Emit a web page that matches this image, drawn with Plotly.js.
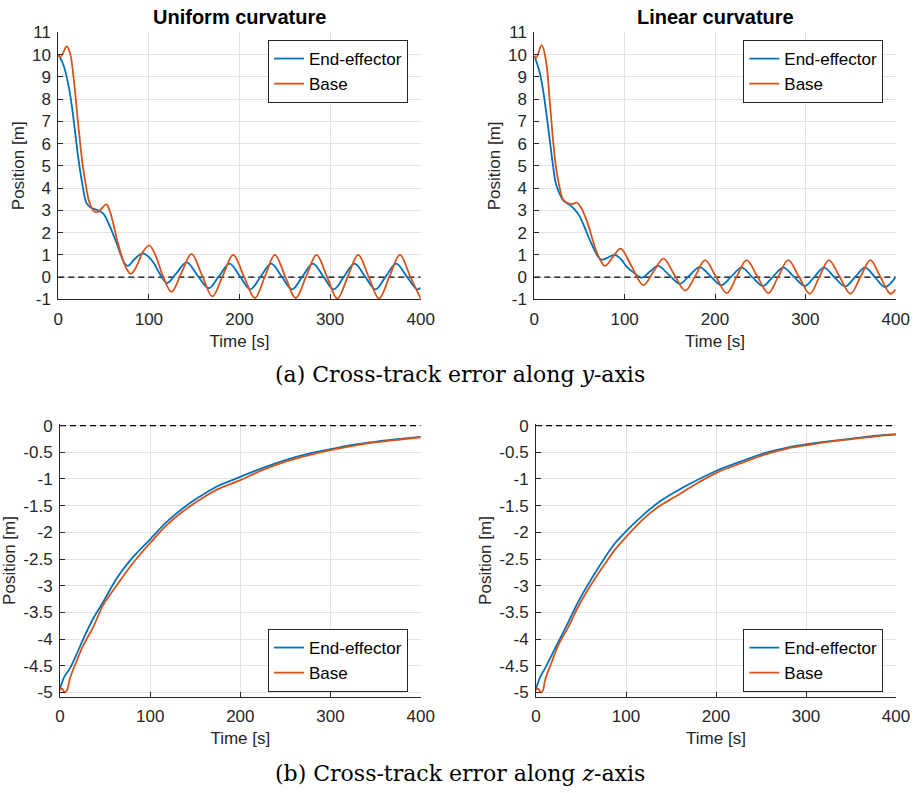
<!DOCTYPE html>
<html>
<head>
<meta charset="utf-8">
<script src="https://cdn.plot.ly/plotly-3.0.1.min.js"></script>
<style>html,body{margin:0;padding:0;background:#fff;}#chart{width:914px;height:793px;}</style>
</head>
<body>
<div id="chart"></div>
<script>
// ---------- Data ----------
// (a) Cross-track error along y-axis, Uniform curvature
const ucYEeT = [0, 5.5, 11, 14.7, 18.4, 22, 25.8, 31.3, 36, 40, 44, 49.7, 57, 64.4, 69, 73, 77, 84, 93, 100, 105, 112, 120, 130, 141.7, 154, 166, 177.5, 189, 200.5, 212, 223.5, 235, 246.5, 258, 269.5, 281, 292.5, 304, 315.5, 327, 338.5, 350, 361.5, 373, 384.5, 396, 400];
const ucYEe  = [10, 9.55, 8.66, 7.76, 6.57, 5.37, 4.36, 3.31, 3.12, 3.05, 3.0, 2.85, 2.27, 1.52, 1.0, 0.62, 0.5, 0.8, 1.06, 0.9, 0.65, 0.15, -0.27, 0.15, 0.66, 0.05, -0.5, 0.05, 0.6, 0.03, -0.55, 0.03, 0.6, 0.03, -0.55, 0.03, 0.6, 0.03, -0.55, 0.03, 0.6, 0.03, -0.55, 0.03, 0.6, 0.03, -0.55, -0.48];
const ucYBaseT = [0, 1.8, 5, 9.2, 12.9, 16.5, 20.2, 23.9, 27, 29.5, 34, 38.7, 42.3, 47, 53, 57, 61, 65, 70, 75, 80, 86, 93, 100.5, 108, 115, 125, 136, 147, 158.5, 170, 181.5, 193, 205, 217, 228, 239, 250.5, 262, 273.5, 285, 296.5, 308, 319.5, 331, 342.5, 354, 365.5, 377, 388.5, 400];
const ucYBase  = [10, 9.88, 10.05, 10.37, 10.07, 9.1, 7.6, 6.1, 5.0, 4.36, 3.4, 2.99, 2.91, 3.05, 3.27, 2.95, 2.35, 1.65, 0.93, 0.4, 0.14, 0.45, 1.1, 1.42, 0.9, 0.1, -0.67, 0.2, 1.04, 0.1, -0.87, 0.05, 1.0, 0.02, -0.95, 0.02, 1.0, 0.02, -0.95, 0.02, 1.0, 0.02, -0.97, 0.02, 1.0, 0.02, -0.97, 0.02, 1.0, 0.02, -0.97];

// (a) Cross-track error along y-axis, Linear curvature
const lcYEeT = [0, 5.6, 9.3, 13, 16.8, 20.5, 24, 28, 32, 36, 40, 45, 50, 55, 60, 65, 70, 74, 80, 89, 96, 102, 110, 119, 128, 137, 149, 161, 172, 183, 195, 207, 218, 229.5, 241, 253, 264, 275.5, 287.5, 299.5, 310, 320.5, 332, 344, 355, 366, 377, 388, 400];
const lcYEe  = [9.95, 9.25, 8.5, 7.46, 6.27, 5.07, 4.18, 3.75, 3.45, 3.33, 3.22, 3.02, 2.75, 2.3, 1.8, 1.35, 0.95, 0.78, 0.85, 1.0, 0.8, 0.48, 0.2, -0.03, 0.25, 0.5, 0.1, -0.3, 0.08, 0.45, 0.04, -0.37, 0.02, 0.42, 0.01, -0.4, 0.01, 0.42, 0.01, -0.4, 0.01, 0.42, 0.0, -0.42, 0.0, 0.42, 0.0, -0.45, 0.0];
const lcYBaseT = [0, 2, 8.2, 13, 16.8, 20.5, 24, 28, 31.7, 35.4, 41, 47.5, 52, 56, 60, 63.5, 67, 71, 78, 87, 95.6, 107.7, 120.7, 132, 143, 155, 167, 178, 189, 201, 213, 224, 235, 247, 259, 270, 281, 293, 305, 315.5, 326, 338, 350, 361, 372, 383, 394, 400];
const lcYBase  = [9.93, 9.85, 10.42, 9.7, 8.06, 6.27, 4.93, 4.03, 3.5, 3.36, 3.28, 3.34, 3.1, 2.75, 2.3, 1.82, 1.35, 0.93, 0.5, 0.9, 1.28, 0.48, -0.36, 0.25, 0.83, 0.1, -0.61, 0.03, 0.76, 0.02, -0.72, 0.02, 0.76, 0.02, -0.72, 0.02, 0.76, 0.01, -0.75, 0.01, 0.76, 0.01, -0.75, 0.01, 0.76, 0.01, -0.75, -0.55];

// (b) Cross-track error along z-axis, Uniform curvature
const ucZEeT = [0, 5, 11, 18, 26, 37, 48, 63, 78, 89, 100, 118, 137, 155, 174, 200, 225, 251, 277, 300, 325, 351, 377, 400];
const ucZEe  = [-4.93, -4.7, -4.55, -4.3, -3.99, -3.61, -3.3, -2.86, -2.52, -2.32, -2.13, -1.81, -1.54, -1.33, -1.14, -0.96, -0.79, -0.64, -0.52, -0.44, -0.36, -0.3, -0.25, -0.21];
const ucZBaseT = [0, 2, 5.5, 8, 11, 18, 26, 37, 48, 63, 78, 89, 100, 118, 137, 155, 174, 200, 225, 251, 277, 300, 325, 351, 377, 400];
const ucZBase  = [-4.96, -4.93, -5.0, -4.95, -4.74, -4.43, -4.11, -3.77, -3.36, -2.99, -2.64, -2.41, -2.2, -1.87, -1.6, -1.39, -1.2, -1.02, -0.83, -0.67, -0.55, -0.46, -0.38, -0.31, -0.26, -0.22];

// (b) Cross-track error along z-axis, Linear curvature
const lcZEeT = [0, 5, 10, 17.5, 25, 36, 47, 62, 77, 88, 100, 118, 136, 155, 171, 200, 227, 253, 279, 300, 327, 353, 378, 400];
const lcZEe  = [-4.93, -4.7, -4.55, -4.3, -4.05, -3.68, -3.3, -2.86, -2.46, -2.2, -1.98, -1.69, -1.44, -1.24, -1.09, -0.85, -0.675, -0.52, -0.41, -0.35, -0.29, -0.24, -0.19, -0.16];
const lcZBaseT = [0, 2, 5.6, 8, 10, 17.5, 25, 36, 47, 62, 77, 88, 100, 118, 136, 155, 174, 200, 227, 253, 279, 300, 327, 353, 378, 400];
const lcZBase  = [-4.96, -4.93, -5.0, -4.95, -4.77, -4.43, -4.11, -3.77, -3.39, -2.96, -2.58, -2.32, -2.09, -1.77, -1.52, -1.33, -1.13, -0.89, -0.71, -0.55, -0.43, -0.37, -0.3, -0.25, -0.2, -0.17];

// reference (zero) line
const refX = [0, 400];
const refY = [0, 0];

// ticks
const xTicks = [0, 100, 200, 300, 400];
const xTickText = ['0', '100', '200', '300', '400'];
const yTopTicks = [-1, 0, 1, 2, 3, 4, 5, 6, 7, 8, 9, 10, 11];
const yTopText = ['-1', '0', '1', '2', '3', '4', '5', '6', '7', '8', '9', '10', '11'];
const yBotTicks = [-5, -4.5, -4, -3.5, -3, -2.5, -2, -1.5, -1, -0.5, 0];
const yBotText = ['-5', '-4.5', '-4', '-3.5', '-3', '-2.5', '-2', '-1.5', '-1', '-0.5', '0'];

const seriesNames = ['End-effector', 'Base'];
const titles = ['Uniform curvature', 'Linear curvature'];
const captions = ['(a) Cross-track error along <i>y</i>-axis', '(b) Cross-track error along <i>z</i>-axis'];

// ---------- Styling ----------
const BLUE = '#0072BD', ORANGE = '#D95319', AXC = '#262626', GRID = '#e3e3e3';
const FONT = 'Liberation Sans, Arial, Helvetica, sans-serif';
const SERIF = 'DejaVu Serif, Liberation Serif, serif';

function line(x, y, name, color, xa, ya, leg) {
  return {x: x, y: y, name: name, type: 'scatter', mode: 'lines',
          line: {color: color, width: 1.8, shape: 'spline', smoothing: 1},
          xaxis: xa, yaxis: ya, legend: leg, showlegend: true, hoverinfo: 'skip'};
}
function ref(xa, ya) {
  return {x: refX, y: refY, type: 'scatter', mode: 'lines', showlegend: false,
          line: {color: '#000', width: 1.2, dash: '6px,4px'}, xaxis: xa, yaxis: ya, hoverinfo: 'skip'};
}

const traces = [
  ref('x', 'y'),
  line(ucYEeT, ucYEe, seriesNames[0], BLUE, 'x', 'y', 'legend'),
  line(ucYBaseT, ucYBase, seriesNames[1], ORANGE, 'x', 'y', 'legend'),
  ref('x2', 'y2'),
  line(lcYEeT, lcYEe, seriesNames[0], BLUE, 'x2', 'y2', 'legend2'),
  line(lcYBaseT, lcYBase, seriesNames[1], ORANGE, 'x2', 'y2', 'legend2'),
  ref('x3', 'y3'),
  line(ucZEeT, ucZEe, seriesNames[0], BLUE, 'x3', 'y3', 'legend3'),
  line(ucZBaseT, ucZBase, seriesNames[1], ORANGE, 'x3', 'y3', 'legend3'),
  ref('x4', 'y4'),
  line(lcZEeT, lcZEe, seriesNames[0], BLUE, 'x4', 'y4', 'legend4'),
  line(lcZBaseT, lcZBase, seriesNames[1], ORANGE, 'x4', 'y4', 'legend4')
];

const W = 914, H = 793;
const px = v => v / W;
const py = v => 1 - v / H;

function xaxis(d0, d1, anchor) {
  return {domain: [px(d0), px(d1)], anchor: anchor, range: [0, 400],
          tickvals: xTicks, ticktext: xTickText, ticks: 'inside', ticklen: 5, tickcolor: AXC, tickwidth: 1,
          ticklabelstandoff: 4,
          showline: true, linecolor: AXC, linewidth: 1, mirror: false,
          showgrid: true, gridcolor: GRID, gridwidth: 1, zeroline: false,
          tickfont: {family: FONT, size: 17, color: AXC},
          title: {text: 'Time [s]', font: {family: FONT, size: 17, color: AXC}, standoff: 7}};
}
function yaxis(d0, d1, anchor, range, tv, tt) {
  return {domain: [py(d1), py(d0)], anchor: anchor, range: range,
          tickvals: tv, ticktext: tt, ticks: 'inside', ticklen: 5, tickcolor: AXC, tickwidth: 1,
          ticklabelstandoff: 3,
          showline: true, linecolor: AXC, linewidth: 1, mirror: false,
          showgrid: true, gridcolor: GRID, gridwidth: 1, zeroline: false,
          tickfont: {family: FONT, size: 17, color: AXC},
          title: {text: 'Position [m]', font: {family: FONT, size: 17, color: AXC}, standoff: 3}};
}
function legend(xr, yv, yanchor) {
  return {x: px(xr), xanchor: 'right', y: yv, yanchor: yanchor,
          bgcolor: '#ffffff', bordercolor: AXC, borderwidth: 1,
          font: {family: FONT, size: 17, color: '#000'}, tracegroupgap: 0, itemwidth: 30};
}

const layout = {
  width: W, height: H, margin: {l: 0, r: 0, t: 0, b: 0},
  paper_bgcolor: '#fff', plot_bgcolor: '#fff', font: {family: FONT, color: AXC},
  xaxis: xaxis(58.3, 420.7, 'y'),
  yaxis: yaxis(32.3, 299.3, 'x', [-1, 11], yTopTicks, yTopText),
  xaxis2: xaxis(534.3, 895.7, 'y2'),
  yaxis2: yaxis(32.3, 299.3, 'x2', [-1, 11], yTopTicks, yTopText),
  xaxis3: xaxis(60, 420.7, 'y3'),
  yaxis3: yaxis(424.3, 696.7, 'x3', [-5.08, 0.025], yBotTicks, yBotText),
  xaxis4: xaxis(536, 896, 'y4'),
  yaxis4: yaxis(424.3, 696.7, 'x4', [-5.08, 0.025], yBotTicks, yBotText),
  legend: legend(408, py(40), 'top'),
  legend2: legend(883.3, py(40), 'top'),
  legend3: legend(408, py(692), 'bottom'),
  legend4: legend(883.3, py(692), 'bottom'),
  annotations: [
    {text: titles[0], x: px(239.5), y: py(17), xref: 'paper', yref: 'paper', xanchor: 'center', yanchor: 'middle',
     showarrow: false, font: {family: FONT, size: 20, color: '#000', weight: 'bold'}},
    {text: titles[1], x: px(715), y: py(17), xref: 'paper', yref: 'paper', xanchor: 'center', yanchor: 'middle',
     showarrow: false, font: {family: FONT, size: 20, color: '#000', weight: 'bold'}},
    {text: captions[0], x: px(460), y: py(374), xref: 'paper', yref: 'paper', xanchor: 'center', yanchor: 'middle',
     showarrow: false, font: {family: SERIF, size: 22, color: '#000'}},
    {text: captions[1], x: px(460), y: py(773), xref: 'paper', yref: 'paper', xanchor: 'center', yanchor: 'middle',
     showarrow: false, font: {family: SERIF, size: 22, color: '#000'}}
  ]
};

Plotly.newPlot('chart', traces, layout, {staticPlot: true, displayModeBar: false});
</script>
</body>
</html>
